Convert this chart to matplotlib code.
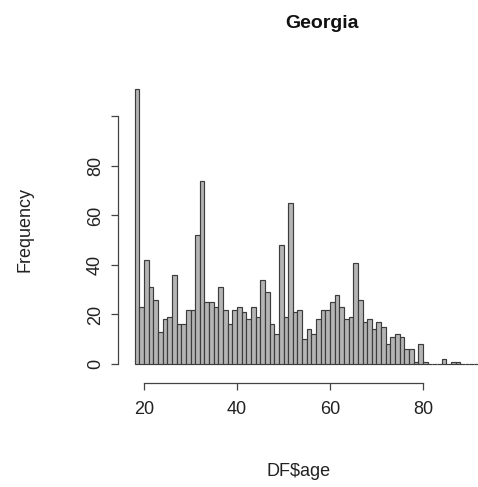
import numpy as np
import matplotlib
matplotlib.use("Agg")
import matplotlib.pyplot as plt

# histogram of ages, one-year bins starting at 18
bin_edges = np.arange(18, 93)
counts = [
    111, 23, 42, 31, 26, 13, 18, 19, 36, 16,   # 18-27
    16, 22, 22, 52, 74, 25, 25, 23, 31, 22,    # 28-37
    16, 22, 23, 21, 18, 23, 19, 34, 29, 16,    # 38-47
    12, 48, 19, 65, 21, 22, 10, 14, 12, 18,    # 48-57
    22, 22, 25, 28, 23, 18, 19, 41, 26, 17,    # 58-67
    18, 14, 17, 15, 8, 11, 12, 11, 6, 6,       # 68-77
    1, 8, 1, 0, 0, 0, 2, 0, 1, 1,              # 78-87
    0, 0, 0, 0,                                # 88-91
]
x_ticks = [20, 40, 60, 80]
y_ticks = [0, 20, 40, 60, 80, 100]
y_tick_labels = ["0", "20", "40", "60", "80", ""]

plt.rcParams["font.family"] = ["Liberation Sans", "DejaVu Sans"]

W, H = 478, 487
fig = plt.figure(figsize=(W / 100, H / 100), dpi=100)
ax = fig.add_axes([125 / W, 1 - 370 / H, 353 / W, 310 / H])

ax.bar(bin_edges[:-1], counts, width=1, align="edge",
       facecolor="#b4b4b4", edgecolor="#3c3c3c", linewidth=0.85)

ax.set_xlim(15.91, 91.83)
ax.set_ylim(-2.42, 122.8)

for side in ("top", "right"):
    ax.spines[side].set_visible(False)
ax.spines["left"].set_position(("outward", 7 * 0.72))
ax.spines["bottom"].set_position(("outward", 13 * 0.72))
ax.spines["left"].set_bounds(0, 100)
ax.spines["bottom"].set_bounds(20, 80)
for side in ("left", "bottom"):
    ax.spines[side].set_color("#444444")
    ax.spines[side].set_linewidth(0.9)

ax.set_xticks(x_ticks)
ax.set_yticks(y_ticks)
ax.set_yticklabels(y_tick_labels, rotation=90, va="center")
ax.tick_params(axis="both", length=5, width=0.9, color="#444444",
               labelsize=13, labelcolor="#222222")
ax.tick_params(axis="x", pad=8)
ax.tick_params(axis="y", pad=5)

fig.text(322 / W, 1 - 23 / H, "Georgia", ha="center", va="center",
         fontsize=14, fontweight="bold", color="#111111")
fig.text(299 / W, 1 - 471 / H, "DF$age", ha="center", va="center",
         fontsize=13, color="#222222")
fig.text(25 / W, 1 - 230 / H, "Frequency", ha="center", va="center",
         rotation=90, fontsize=13, color="#222222")

fig.savefig("out.png", dpi=100)
